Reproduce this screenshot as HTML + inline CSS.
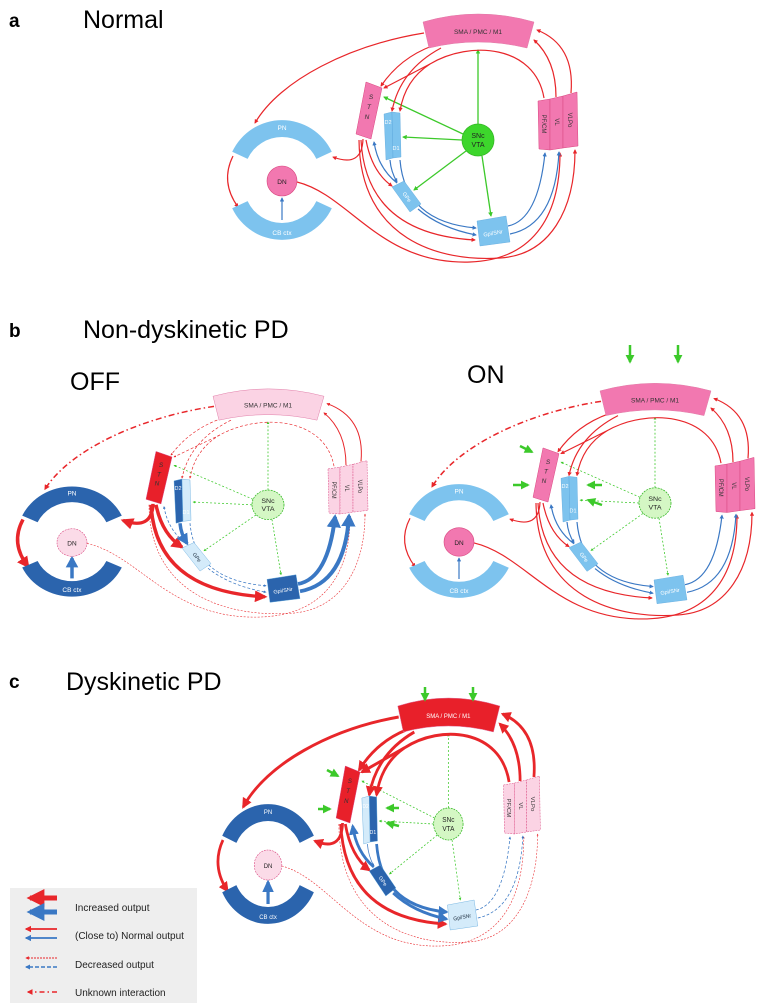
<!DOCTYPE html>
<html><head><meta charset="utf-8"><style>
html,body{margin:0;padding:0;background:#fff;}
svg{display:block;font-family:"Liberation Sans",sans-serif;}
</style></head><body>
<svg width="777" height="1008" viewBox="0 0 777 1008" xmlns="http://www.w3.org/2000/svg">
<defs>
<marker id="ar" viewBox="0 0 10 10" refX="8" refY="5" markerWidth="3.6" markerHeight="3.6" orient="auto" markerUnits="strokeWidth"><path d="M0,0L10,5L0,10z" fill="#e8262a"/></marker>
<marker id="ab" viewBox="0 0 10 10" refX="8" refY="5" markerWidth="3.6" markerHeight="3.6" orient="auto" markerUnits="strokeWidth"><path d="M0,0L10,5L0,10z" fill="#3a78c4"/></marker>
<marker id="ag" viewBox="0 0 10 10" refX="8" refY="5" markerWidth="3.6" markerHeight="3.6" orient="auto" markerUnits="strokeWidth"><path d="M0,0L10,5L0,10z" fill="#3cc92a"/></marker>
<g id="C">
 <!-- green -->
 <g style="stroke:#3cc92a;fill:none;stroke-width:var(--gw,1.3);stroke-dasharray:var(--gd,none)">
  <path d="M478,124L478,50" marker-end="url(#ag)"/>
  <path d="M463,134L384,97" marker-end="url(#ag)"/>
  <path d="M462,140L403,137" marker-end="url(#ag)"/>
  <path d="M466,151L414,190" marker-end="url(#ag)"/>
  <path d="M482,156L491,216" marker-end="url(#ag)"/>
 </g>
 <!-- red cortical -->
 <g style="stroke:#e8262a;fill:none;stroke-width:var(--cw,1.2);stroke-dasharray:var(--cd,none)">
  <path d="M432,46Q400,58 381,86" marker-end="url(#ar)"/>
  <path d="M441,48Q400,70 392,111" marker-end="url(#ar)"/>
  <path d="M544,98C535,45 470,40 430,64L384,88" marker-end="url(#ar)"/>
  <path d="M430,64Q405,80 400,111" marker-end="url(#ar)"/>
 </g>
 <g style="stroke:#e8262a;fill:none;stroke-width:var(--tw,1.2);stroke-dasharray:var(--td,none)">
  <path d="M556,97Q556,60 534,40" marker-end="url(#ar)"/>
  <path d="M571,93Q575,45 537,30" marker-end="url(#ar)"/>
 </g>
 <path d="M424,33C350,45 280,80 255,123" style="stroke:#e8262a;fill:none;stroke-width:var(--spw,1.2);stroke-dasharray:var(--spd,none)" marker-end="url(#ar)"/>
 <path d="M233,156Q220,182 238,207" style="stroke:#e8262a;fill:none;stroke-width:var(--pcw,1.2)" marker-end="url(#ar)"/>
 <path d="M282,220L282,198" style="stroke:#3a78c4;fill:none;stroke-width:var(--cbw,1.2)" marker-end="url(#ab)"/>
 <path d="M363,139Q362,168 333,157" style="stroke:#e8262a;fill:none;stroke-width:var(--snw,1.2)" marker-end="url(#ar)"/>
 <g style="stroke:#e8262a;fill:none;stroke-width:var(--dnw,1.2);stroke-dasharray:var(--dnd,none)">
  <path d="M297,182C350,195 380,265 470,262C530,260 560,220 560,153" marker-end="url(#ar)"/>
  <path d="M359,140C360,240 440,262 500,258C550,255 575,210 575,150" marker-end="url(#ar)"/>
 </g>
 <g style="stroke:#e8262a;fill:none;stroke-width:var(--sgw,1.2)">
  <path d="M366,140Q372,172 392,186" marker-end="url(#ar)"/>
  <path d="M361,140Q366,234 475,240" marker-end="url(#ar)"/>
 </g>
 <path d="M397,183Q378,168 374,142" style="stroke:#3a78c4;fill:none;stroke-width:var(--b1w,1.2);stroke-dasharray:var(--b1d,none)" marker-end="url(#ab)"/>
 <path d="M390,160Q391,172 397,182" style="stroke:#3a78c4;fill:none;stroke-width:var(--b2w,1.2);stroke-dasharray:var(--b2d,none)" marker-end="url(#ab)"/>
 <path d="M400,160Q405,222 476,228" style="stroke:#3a78c4;fill:none;stroke-width:var(--b3w,1.2);stroke-dasharray:var(--b3d,none)" marker-end="url(#ab)"/>
 <path d="M418,209Q440,228 476,235" style="stroke:#3a78c4;fill:none;stroke-width:var(--b4w,1.2);stroke-dasharray:var(--b4d,none)" marker-end="url(#ab)"/>
 <g style="stroke:#3a78c4;fill:none;stroke-width:var(--gtw,1.2);stroke-dasharray:var(--gtd,none)">
  <path d="M508,226Q538,220 545,153" marker-end="url(#ab)"/>
  <path d="M510,234Q555,225 559,152" marker-end="url(#ab)"/>
 </g>
 <!-- nodes -->
 <path d="M423,22Q478,6 534,22L527,48Q478,36 429,48Z" style="fill:var(--sma,#f278b0);stroke:#e07aa6;stroke-width:.5"/>
 <text x="478" y="34" font-size="6.5" text-anchor="middle" style="fill:var(--smaT,#333)">SMA / PMC / M1</text>
 <polygon points="366,82 382,88 371,139 356,134" style="fill:var(--stn,#f278b0);stroke:#d9467f;stroke-width:.5"/>
 <text font-size="6.5" text-anchor="middle" font-style="italic" style="fill:#333"><tspan x="371" y="99">S</tspan><tspan x="369" y="109">T</tspan><tspan x="367" y="119">N</tspan></text>
 <polygon points="384,114 392,112 393,158 386,160" style="fill:var(--d2,#7dc3ee);stroke:#5aa6dc;stroke-width:.4"/>
 <polygon points="392,112 400,113 401,157 393,158" style="fill:var(--d1,#7dc3ee);stroke:#5aa6dc;stroke-width:.4"/>
 <text x="388" y="124" font-size="5.5" text-anchor="middle" style="fill:var(--dT,#fff)">D2</text>
 <text x="396" y="150" font-size="5.5" text-anchor="middle" style="fill:var(--dT,#fff)">D1</text>
 <polygon points="392,187 404,181 421,204 410,212" style="fill:var(--gpe,#7dc3ee);stroke:#5aa6dc;stroke-width:.4"/>
 <text x="407" y="199" font-size="5.5" text-anchor="middle" transform="rotate(55 407 197)" style="fill:var(--gpeT,#fff)">GPe</text>
 <polygon points="477,221 506,216 510,242 480,246" style="fill:var(--gpi,#7dc3ee);stroke:#5aa6dc;stroke-width:.4"/>
 <text x="493" y="235" font-size="5.5" text-anchor="middle" transform="rotate(-10 493 233)" style="fill:var(--gpiT,#fff)">Gpi/SNr</text>
 <g style="fill:var(--thal,#f278b0);stroke:#d9467f;stroke-width:.5;stroke-dasharray:var(--thd,none)">
  <polygon points="538,101 550,99 550,150 539,149"/>
  <polygon points="550,99 563,96 563,148 550,150"/>
  <polygon points="563,96 577,92 578,146 563,148"/>
 </g>
 <g font-size="6" text-anchor="middle" fill="#333">
  <text x="544" y="126" transform="rotate(90 544 124)">PF/CM</text>
  <text x="557" y="124" transform="rotate(90 557 122)">VL</text>
  <text x="570" y="122" transform="rotate(90 570 120)">VLPo</text>
 </g>
 <circle cx="478" cy="140" r="16" style="fill:var(--snc,#3dd62c);stroke:#35b825;stroke-width:.8;stroke-dasharray:var(--scd,none)"/>
 <text x="478" y="138" font-size="7" text-anchor="middle" fill="#222">SNc</text>
 <text x="478" y="147" font-size="7" text-anchor="middle" fill="#222">VTA</text>
 <path d="M232.2,151.8A55,55 0 0 1 331.8,151.8L316.4,158.9A38,38 0 0 0 247.6,158.9Z" style="fill:var(--pn,#7dc3ee)"/>
 <path d="M232.2,208.2A55,55 0 0 0 331.8,208.2L316.4,201.1A38,38 0 0 1 247.6,201.1Z" style="fill:var(--pn,#7dc3ee)"/>
 <text x="282" y="130" font-size="6.5" text-anchor="middle" fill="#fff">PN</text>
 <text x="282" y="235" font-size="6.5" text-anchor="middle" fill="#fff">CB ctx</text>
 <circle cx="282" cy="181" r="15" style="fill:var(--dn,#f278b0);stroke:#d9467f;stroke-width:.6;stroke-dasharray:var(--dnc,none)"/>
 <text x="282" y="184" font-size="6.5" text-anchor="middle" fill="#222">DN</text>
</g>
</defs>

<!-- headings -->
<text x="9" y="27" font-size="19" font-weight="bold">a</text>
<text x="83" y="28" font-size="25">Normal</text>
<text x="9" y="337" font-size="19" font-weight="bold">b</text>
<text x="83" y="338" font-size="25">Non-dyskinetic PD</text>
<text x="70" y="390" font-size="25">OFF</text>
<text x="467" y="383" font-size="25">ON</text>
<text x="9" y="688" font-size="19" font-weight="bold">c</text>
<text x="66" y="690" font-size="25">Dyskinetic PD</text>

<use href="#C"/>
<use href="#C" transform="translate(-210,376) scale(1,0.92)" style="--sma:#fbd3e4;--stn:#e8202a;--d2:#2b64ad;--d1:#d4ebfa;--gpe:#d4ebfa;--gpeT:#234;--gpi:#2b64ad;--thal:#fbd3e4;--thd:2 1;--pn:#2b64ad;--dn:#fbdbe8;--dnc:2 1;--snc:#d4f7c4;--scd:2 1;--cw:.7;--cd:3 2;--tw:1;--spw:1.6;--spd:6 3 1.5 3;--pcw:3.5;--cbw:3.5;--snw:3.5;--dnw:.6;--dnd:2 1.5;--sgw:3.5;--b1w:.8;--b1d:3 2;--b2w:3.5;--b3w:.8;--b3d:3 2;--b4w:.8;--b4d:3 2;--gtw:4;--gw:.8;--gd:2 2"/>
<use href="#C" transform="translate(177,370) scale(1,0.95)" style="--spw:1.6;--spd:6 3 1.5 3;--snc:#d4f7c4;--scd:2 1;--gw:.8;--gd:2 2"/>
<use href="#C" transform="translate(8.6,684) scale(0.92,1)" style="--sma:#e8202a;--smaT:#fff;--stn:#e8202a;--d2:#d4ebfa;--d1:#2b64ad;--gpe:#2b64ad;--gpi:#d4ebfa;--gpiT:#234;--thal:#fbd3e4;--thd:2 1;--pn:#2b64ad;--dn:#fbdbe8;--dnc:2 1;--snc:#d4f7c4;--scd:2 1;--cw:3;--tw:3;--spw:3;--pcw:3;--cbw:3.5;--snw:3;--dnw:.6;--dnd:2 1.5;--sgw:3;--b1w:3;--b2w:.8;--b3w:3;--b4w:3;--gtw:.8;--gtd:3 2;--gw:.8;--gd:2 2"/>

<!-- green external arrows -->
<g stroke="#3cc92a" stroke-width="2.5" fill="none" marker-end="url(#ag)">
 <path d="M630,345L630,362"/><path d="M678,345L678,362"/>
 <path d="M520,446L532,452"/><path d="M513,485L528,485"/>
 <path d="M602,485L588,485"/><path d="M602,505L588,500"/>
 <path d="M425,687L425,700"/><path d="M473,687L473,700"/>
 <path d="M327,770L338,776"/><path d="M318,809L330,809"/>
 <path d="M399,808L387,808"/><path d="M399,826L387,823"/>
</g>

<!-- legend -->
<rect x="10" y="888" width="187" height="115" fill="#eeeeee"/>
<path d="M57,898L30,898" stroke="#e8262a" stroke-width="5" marker-end="url(#ar)"/>
<path d="M57,912L30,912" stroke="#3a78c4" stroke-width="5" marker-end="url(#ab)"/>
<path d="M57,929L26,929" stroke="#e8262a" stroke-width="1.8" marker-end="url(#ar)"/>
<path d="M57,938L26,938" stroke="#3a78c4" stroke-width="1.8" marker-end="url(#ab)"/>
<path d="M57,958L26,958" stroke="#e8262a" stroke-width="1" stroke-dasharray="2 1" marker-end="url(#ar)"/>
<path d="M57,967L26,967" stroke="#3a78c4" stroke-width="1.4" stroke-dasharray="4 2" marker-end="url(#ab)"/>
<path d="M57,992L28,992" stroke="#e8262a" stroke-width="1.6" stroke-dasharray="5 3 1.5 3" marker-end="url(#ar)"/>
<g font-size="10" fill="#222">
 <text x="75" y="911">Increased output</text>
 <text x="75" y="939">(Close to) Normal output</text>
 <text x="75" y="968">Decreased output</text>
 <text x="75" y="996">Unknown interaction</text>
</g>
</svg>
</body></html>
